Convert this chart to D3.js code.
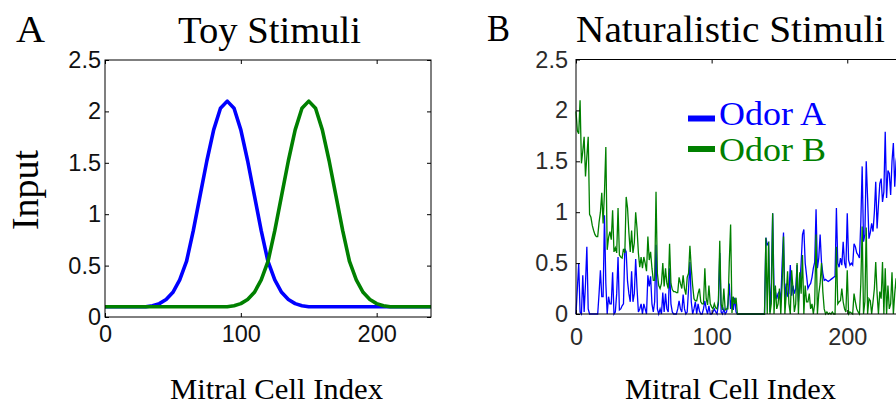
<!DOCTYPE html>
<html>
<head>
<meta charset="utf-8">
<script src="https://cdn.jsdelivr.net/npm/d3@7"></script>
<style>
  body { margin: 0; background: #fff; }
  svg { display: block; }
</style>
</head>
<body>
<div id="chart"></div>
<script>
// ---- data ----
const xTicks = [0, 100, 200];
const yTicks = [0, 0.5, 1, 1.5, 2, 2.5];
const legendLabels = ['Odor A', 'Odor B'];
const seriesColors = ['#0000ff', '#008000'];

// panel A: toy stimuli, sampled every 5 cells
const toyX = [0, 5, 10, 15, 20, 25, 30, 35, 40, 45, 50, 55, 60, 65, 70, 75, 80, 85, 90, 95,
  100, 105, 110, 115, 120, 125, 130, 135, 140, 145, 150, 155, 160, 165, 170, 175, 180, 185, 190, 195,
  200, 205, 210, 215, 220, 225, 230, 235, 240];
const toyOdorA = [0.10, 0.10, 0.10, 0.10, 0.10, 0.10, 0.10, 0.11, 0.13, 0.17, 0.24, 0.36, 0.54, 0.84, 1.18, 1.52, 1.82, 2.03, 2.10, 2.03,
  1.82, 1.52, 1.18, 0.84, 0.54, 0.36, 0.24, 0.17, 0.13, 0.11, 0.10, 0.10, 0.10, 0.10, 0.10, 0.10, 0.10, 0.10, 0.10, 0.10,
  0.10, 0.10, 0.10, 0.10, 0.10, 0.10, 0.10, 0.10, 0.10];
const toyOdorB = [0.10, 0.10, 0.10, 0.10, 0.10, 0.10, 0.10, 0.10, 0.10, 0.10, 0.10, 0.10, 0.10, 0.10, 0.10, 0.10, 0.10, 0.10, 0.10, 0.11,
  0.13, 0.17, 0.24, 0.36, 0.54, 0.84, 1.18, 1.52, 1.82, 2.03, 2.10, 2.03, 1.82, 1.52, 1.18, 0.84, 0.54, 0.36, 0.24, 0.17,
  0.13, 0.11, 0.10, 0.10, 0.10, 0.10, 0.10, 0.10, 0.10];

// panel B: naturalistic stimuli, one value per mitral cell (0..240)
const natOdorA = [
  0, 0.25, 0.50, 0.02, 0, 0.38, 0.02, 0.30, 0.66, 0.05,
  0, 0, 0, 0, 0, 0, 0, 0.20, 0.43, 0.17,
  0.17, 0.97, 0.30, 0, 0.17, 0.10, 0.10, 0.41, 0, 0.02,
  0.20, 0.56, 0.04, 0.05, 0.08, 0.10, 0.64, 0.61, 0.32, 0.20,
  0.12, 0.42, 0.12, 0.20, 0.54, 0.25, 0.02, 0.05, 0.10, 0,
  0.10, 0.05, 0, 0.38, 0.27, 0.37, 0.10, 0.02, 0.12, 0.68,
  0.05, 0, 0.05, 0, 0.21, 0.02, 0.20, 0.05, 0.02, 0.45,
  0.10, 0.02, 0, 0, 0, 0.05, 0.13, 0.05, 0.02, 0.19,
  0.05, 0, 0.02, 0.25, 0.51, 0.12, 0, 0.05, 0.12, 0,
  0.10, 0.03, 0, 0, 0.05, 0.13, 0.05, 0, 0.08, 0,
  0, 0.02, 0.05, 0.02, 0, 0.10, 0.60, 0.02, 0, 0.05,
  0, 0.02, 0.10, 0.30, 0.05, 0.17, 0.04, 0.16, 0.02, 0,
  0, 0, 0, 0, 0, 0, 0, 0, 0, 0,
  0, 0, 0, 0, 0, 0, 0, 0, 0, 0,
  0.75, 0.68, 0.70, 0.02, 0.30, 0.99, 0.25, 0.22, 0.15, 0.20,
  0.22, 0.12, 0.50, 0.80, 0.12, 0.30, 0.18, 0.20, 0.48, 0.18,
  0.28, 0.20, 0.25, 0.48, 0.12, 0.28, 0.50, 0.78, 0.83, 0.50,
  0.38, 0.25, 0.28, 0.30, 0.36, 0.45, 0.51, 1.03, 0.45, 0.55,
  0.78, 0.51, 0.40, 0.33, 0.34, 0.33, 0.32, 0.33, 0.34, 0.35,
  0.36, 0.37, 1.04, 0.50, 0.46, 0.55, 0.48, 0.71, 0.50, 0.45,
  0.99, 0.53, 0.48, 0.50, 0.48, 0.69, 0.66, 0.60, 0.58, 0.55,
  0.90, 1.45, 0.71, 0.78, 1.50, 1.14, 0.74, 0.80, 0.89, 0.81,
  1.00, 1.30, 0.84, 1.07, 1.28, 1.33, 1.10, 1.20, 1.79, 1.14,
  1.41, 1.38, 1.17, 1.50, 1.68, 1.25, 1.50, 1.60, 1.30, 1.55,
  1.45];
const natOdorB = [
  1.99, 1.80, 1.77, 2.10, 1.48, 1.60, 1.74, 1.35, 1.55, 1.74,
  0.98, 0.95, 0.87, 0.82, 0.78, 0.76, 0.76, 0.90, 1.00, 1.19,
  0.89, 1.20, 1.64, 0.63, 0.75, 0.81, 0.73, 1.02, 0.61, 0.65,
  0.60, 1.04, 0.58, 0.56, 0.55, 0.64, 0.60, 1.15, 1.04, 0.80,
  0.61, 0.82, 0.60, 0.70, 1.00, 0.84, 0.60, 0.46, 0.56, 0.45,
  0.56, 0.50, 0.42, 0.76, 0.53, 0.61, 0.45, 0.33, 0.33, 1.20,
  0.40, 0.28, 0.25, 0.30, 0.50, 0.27, 0.45, 0.30, 0.25, 0.69,
  0.30, 0.24, 0.22, 0.22, 0.21, 0.21, 0.36, 0.30, 0.25, 0.38,
  0.25, 0.19, 0.36, 0.40, 0.67, 0.45, 0.28, 0.15, 0.13, 0.13,
  0.20, 0.25, 0.12, 0.10, 0.10, 0.45, 0.15, 0.09, 0.28, 0.10,
  0.07, 0.05, 0.10, 0.06, 0.05, 0.13, 0.72, 0.10, 0.04, 0.25,
  0.04, 0.05, 0.05, 0.50, 0.88, 0.01, 0.17, 0.10, 0.16, 0,
  0, 0, 0, 0, 0, 0, 0, 0, 0, 0,
  0, 0, 0, 0, 0, 0, 0, 0, 0, 0,
  0.75, 0, 0.71, 0, 0.10, 0.99, 0, 0.28, 0.05, 0.10,
  0.25, 0, 0.30, 0.76, 0, 0.19, 0.42, 0.10, 0, 0.43,
  0.25, 0.02, 0.10, 0.50, 0, 0.41, 0.20, 0.58, 0, 0.28,
  0.12, 0.12, 0.20, 0.05, 0.10, 0, 0.10, 0.78, 0, 0.20,
  0.30, 0.50, 0.22, 0.05, 0, 0.02, 0, 0.01, 0, 0.02,
  0, 0, 0.66, 0.10, 0.12, 0.13, 0.25, 0.12, 0.05, 0.02,
  0.43, 0, 0.02, 0.01, 0, 0.20, 0.12, 0.05, 0.02, 0,
  0.30, 0.86, 0, 0.12, 0.85, 0, 0.15, 0.13, 0, 0.12,
  0.25, 0.51, 0.20, 0, 0.22, 0.15, 0.51, 0, 0.45, 0,
  0.28, 0.05, 0.10, 0.41, 0, 0.20, 0.35, 0.10, 0.50, 0.20,
  0.40];

const width = 896, height = 405;
const tickFont = '"Liberation Sans", Arial, Helvetica, sans-serif';
const serifFont = '"Liberation Serif", "Times New Roman", serif';

const svg = d3.select('#chart').append('svg')
  .attr('width', width)
  .attr('height', height)
  .attr('viewBox', `0 0 ${width} ${height}`);

// draws one boxed MATLAB-style axes and its lines
const drawPanel = (p) => {
  const x = d3.scaleLinear().domain([0, 240]).range([p.left, p.right]);
  const y = d3.scaleLinear().domain([0, 2.5]).range([p.bottom, p.top]);

  // lines first, box on top like matlab
  const line = d3.line().x(d => x(d[0])).y(d => y(d[1]));
  p.series.forEach((s, i) => {
    svg.append('path')
      .datum(s)
      .attr('fill', 'none')
      .attr('stroke', seriesColors[i])
      .attr('stroke-width', p.lineWidth)
      .attr('stroke-linejoin', p.lineWidth > 2 ? 'round' : 'miter')
      .attr('d', line);
  });

  const styleAxis = (g, color) => {
    g.select('.domain').remove();
    g.selectAll('.tick line').attr('stroke', '#000').attr('stroke-width', 1);
    g.selectAll('.tick text')
      .attr('fill', color)
      .style('font-family', tickFont)
      .style('font-size', '23.5px');
  };

  svg.append('g')
    .attr('transform', `translate(${p.left},0)`)
    .call(d3.axisLeft(y).tickValues(yTicks).tickFormat(d3.format('')).tickSize(-4).tickPadding(p.yPad))
    .call(g => styleAxis(g, p.labelColor));
  svg.append('g')
    .attr('transform', `translate(${p.right},0)`)
    .call(d3.axisRight(y).tickValues(yTicks).tickFormat('').tickSize(-4))
    .call(g => styleAxis(g, p.labelColor));
  svg.append('g')
    .attr('transform', `translate(0,${p.bottom})`)
    .call(d3.axisBottom(x).tickValues(xTicks).tickFormat(d3.format('')).tickSize(-4).tickPadding(p.xPad))
    .call(g => styleAxis(g, p.labelColor));
  svg.append('g')
    .attr('transform', `translate(0,${p.top})`)
    .call(d3.axisTop(x).tickValues(xTicks).tickFormat('').tickSize(-4))
    .call(g => styleAxis(g, p.labelColor));

  svg.append('rect')
    .attr('x', p.left).attr('y', p.top)
    .attr('width', p.right - p.left).attr('height', p.bottom - p.top)
    .attr('fill', 'none').attr('stroke', '#000').attr('stroke-width', 1);

  return { x, y };
};

const serifText = (txt, xPos, yPos, size, len, color) => svg.append('text')
  .attr('x', xPos).attr('y', yPos)
  .attr('textLength', len).attr('lengthAdjust', 'spacingAndGlyphs')
  .style('font-family', serifFont)
  .style('font-size', size + 'px')
  .attr('fill', color || '#000')
  .text(txt);

// ---- panel A ----
drawPanel({
  left: 105, right: 431, top: 60, bottom: 317,
  lineWidth: 3.6, yPad: 4, xPad: 8, labelColor: '#111',
  series: [toyX.map((v, i) => [v, toyOdorA[i]]), toyX.map((v, i) => [v, toyOdorB[i]])]
});

// ---- panel B ----
drawPanel({
  left: 576, right: 901.5, top: 59.5, bottom: 314,
  lineWidth: 1.3, yPad: 8, xPad: 14, labelColor: '#2b2b2b',
  series: [natOdorA.map((v, i) => [i, v]), natOdorB.map((v, i) => [i, v])]
});

// titles and labels
serifText('A', 16, 42, 38, 29);
serifText('Toy Stimuli', 178, 43, 38, 183);
serifText('B', 487, 41, 38, 23);
serifText('Naturalistic Stimuli', 576, 42, 38, 309);
serifText('Mitral Cell Index', 170, 399, 30, 213);
serifText('Mitral Cell Index', 625, 399, 30, 211);

svg.append('text')
  .attr('transform', 'translate(38,190) rotate(-90)')
  .attr('text-anchor', 'middle')
  .style('font-family', serifFont)
  .style('font-size', '38px')
  .attr('fill', '#000')
  .text('Input');

// legend
const legendY = [118.5, 149];
const legendBase = [125, 161];
legendLabels.forEach((lab, i) => {
  svg.append('line')
    .attr('x1', 688).attr('x2', 715)
    .attr('y1', legendY[i]).attr('y2', legendY[i])
    .attr('stroke', seriesColors[i]).attr('stroke-width', 6);
  serifText(lab, 719, legendBase[i], 34, 107, seriesColors[i]);
});
</script>
</body>
</html>
